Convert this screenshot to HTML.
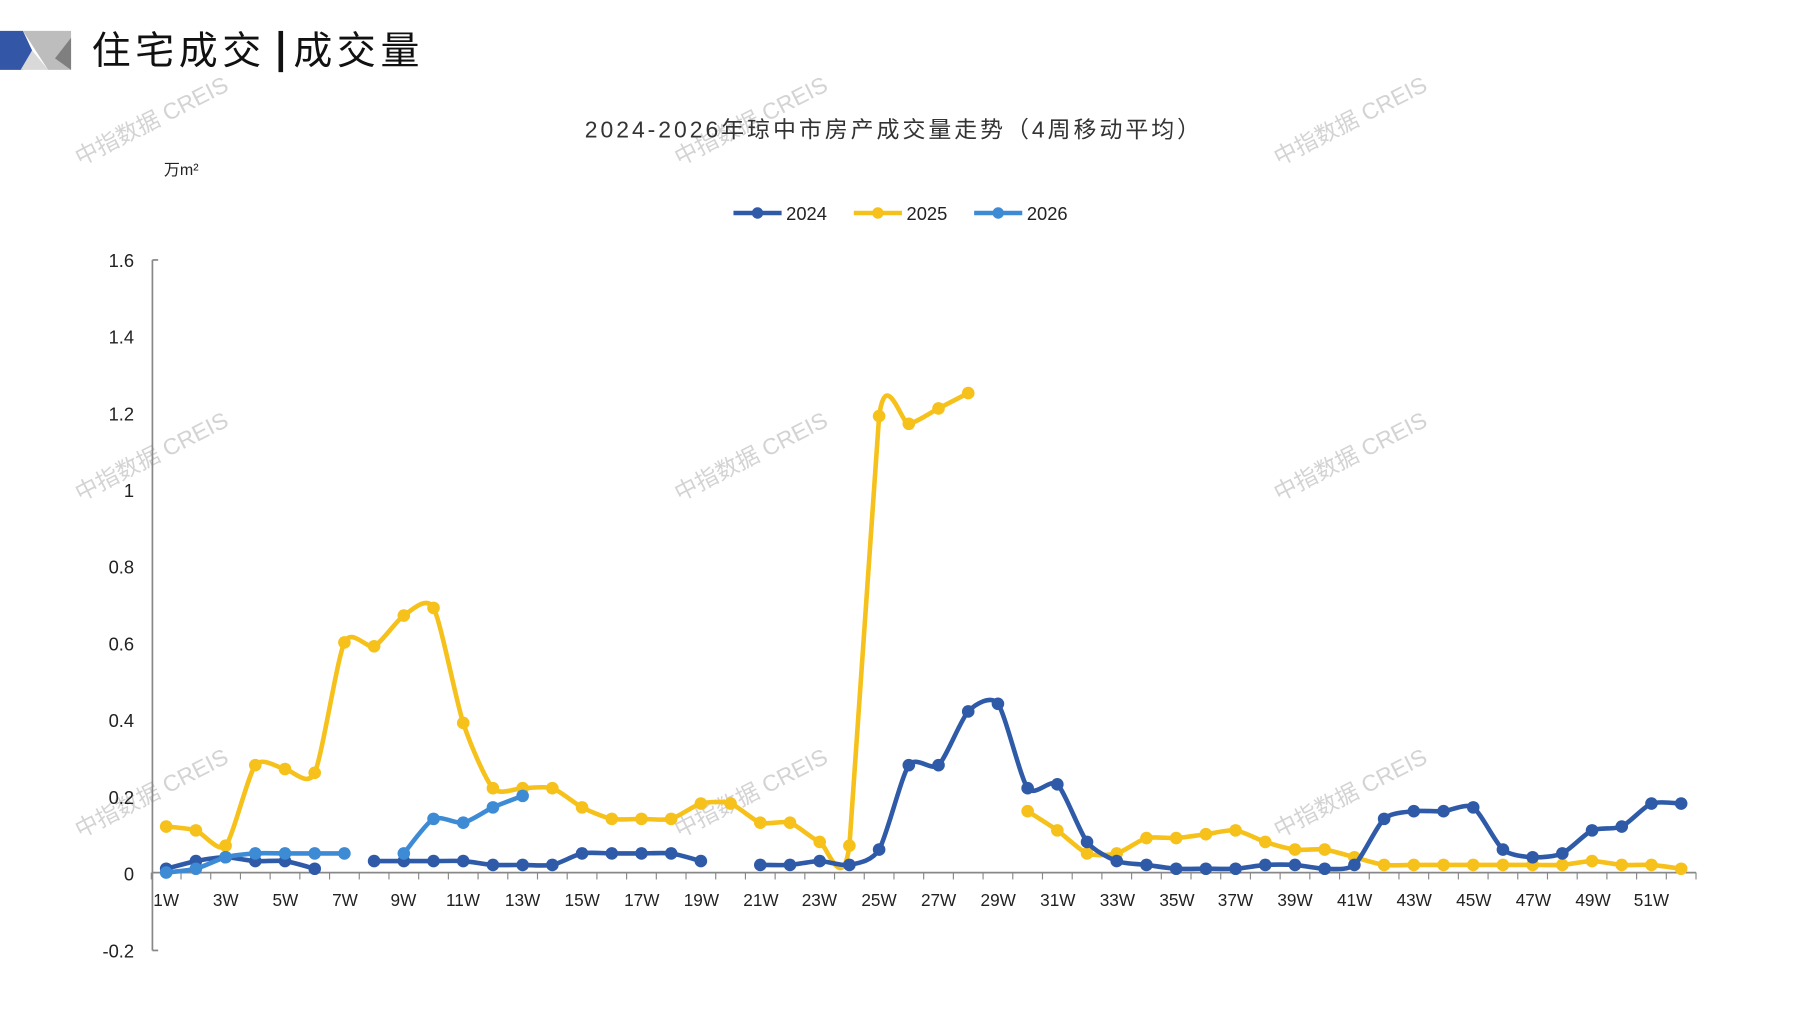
<!DOCTYPE html>
<html><head><meta charset="utf-8"><style>
html,body{margin:0;padding:0;background:#fff;}
svg{display:block;}
text{font-family:"Liberation Sans","Noto Sans CJK SC",sans-serif;}
</style></head><body>
<svg id="c" width="1797" height="1010" viewBox="0 0 1568 882" preserveAspectRatio="none" xmlns="http://www.w3.org/2000/svg">
<rect width="1568" height="882" fill="#fff"/>
<polygon points="0,27 20,27 28,44 20,61 0,61" fill="#3356A6"/>
<polygon points="20,27 62,27 62,61 42,61" fill="#BDBDBD"/>
<polygon points="28,44 42,61 18,61" fill="#D9D9D9"/>
<polygon points="62,33 62,61 48,51" fill="#7F7F7F"/>
<text x="80" y="56" font-size="34" fill="#111" font-family="'Noto Serif CJK SC',serif" letter-spacing="4">住宅成交</text>
<rect x="243" y="27" width="4" height="36" fill="#111"/>
<text x="256" y="56" font-size="34" fill="#111" font-family="'Noto Serif CJK SC',serif" letter-spacing="4">成交量</text>
<g fill="#c8c8c8" font-size="20" opacity="0.8">
<text transform="translate(70,145) rotate(-27)">中指数据 CREIS</text>
<text transform="translate(593,145) rotate(-27)">中指数据 CREIS</text>
<text transform="translate(1116,145) rotate(-27)">中指数据 CREIS</text>
<text transform="translate(70,438) rotate(-27)">中指数据 CREIS</text>
<text transform="translate(593,438) rotate(-27)">中指数据 CREIS</text>
<text transform="translate(1116,438) rotate(-27)">中指数据 CREIS</text>
<text transform="translate(70,732) rotate(-27)">中指数据 CREIS</text>
<text transform="translate(593,732) rotate(-27)">中指数据 CREIS</text>
<text transform="translate(1116,732) rotate(-27)">中指数据 CREIS</text>
</g>
<text x="780" y="120" font-size="20" fill="#333" text-anchor="middle" letter-spacing="2.6">2024-2026年琼中市房产成交量走势（4周移动平均）</text>
<text x="143" y="153" font-size="14" fill="#222">万m²</text>
<g font-size="16" fill="#222">
<line x1="640" y1="186" x2="682" y2="186" stroke="#2E5AA8" stroke-width="4"/><circle cx="661" cy="186" r="5" fill="#2E5AA8"/><text x="686" y="192">2024</text>
<line x1="745" y1="186" x2="787" y2="186" stroke="#F5C11A" stroke-width="4"/><circle cx="766" cy="186" r="5" fill="#F5C11A"/><text x="791" y="192">2025</text>
<line x1="850" y1="186" x2="892" y2="186" stroke="#3D8BD4" stroke-width="4"/><circle cx="871" cy="186" r="5" fill="#3D8BD4"/><text x="896" y="192">2026</text>
</g>
<g stroke="#888" stroke-width="1.5" fill="none">
<line x1="133" y1="227" x2="133" y2="830"/>
<line x1="133" y1="762" x2="1480" y2="762"/>
<line x1="133" y1="227" x2="138" y2="227"/>
<line x1="133" y1="830" x2="138" y2="830"/>
</g>
<g id="ticks" stroke="#888" stroke-width="1"></g>
<g font-size="16" fill="#222" text-anchor="end">
<text x="117" y="233">1.6</text><text x="117" y="300">1.4</text><text x="117" y="367">1.2</text>
<text x="117" y="434">1</text><text x="117" y="501">0.8</text><text x="117" y="568">0.6</text>
<text x="117" y="635">0.4</text><text x="117" y="702">0.2</text><text x="117" y="769">0</text>
<text x="117" y="836">-0.2</text>
</g>
<g font-size="15" fill="#222" text-anchor="middle">
<text x="145" y="791">1W</text><text x="197" y="791">3W</text><text x="249" y="791">5W</text><text x="301" y="791">7W</text>
<text x="352" y="791">9W</text><text x="404" y="791">11W</text><text x="456" y="791">13W</text><text x="508" y="791">15W</text>
<text x="560" y="791">17W</text><text x="612" y="791">19W</text><text x="664" y="791">21W</text><text x="715" y="791">23W</text>
<text x="767" y="791">25W</text><text x="819" y="791">27W</text><text x="871" y="791">29W</text><text x="923" y="791">31W</text>
<text x="975" y="791">33W</text><text x="1027" y="791">35W</text><text x="1078" y="791">37W</text><text x="1130" y="791">39W</text>
<text x="1182" y="791">41W</text><text x="1234" y="791">43W</text><text x="1286" y="791">45W</text><text x="1338" y="791">47W</text>
<text x="1390" y="791">49W</text><text x="1441" y="791">51W</text>
</g>
<g id="series"></g>
</svg>
<script>
var X=function(w){return 145+(w-1)*25.92;},Y=function(v){return 762-v*335;};
var tk=document.getElementById('ticks'),ns='http://www.w3.org/2000/svg';
for(var i=0;i<=52;i++){var x=145+(i-0.5)*25.92;var l=document.createElementNS(ns,'line');l.setAttribute('x1',x);l.setAttribute('x2',x);l.setAttribute('y1',762);l.setAttribute('y2',768);tk.appendChild(l);}
var N=null;
var d24=[0.01,0.03,0.04,0.03,0.03,0.01,N,0.03,0.03,0.03,0.03,0.02,0.02,0.02,0.05,0.05,0.05,0.05,0.03,N,0.02,0.02,0.03,0.02,0.06,0.28,0.28,0.42,0.44,0.22,0.23,0.08,0.03,0.02,0.01,0.01,0.01,0.02,0.02,0.01,0.02,0.14,0.16,0.16,0.17,0.06,0.04,0.05,0.11,0.12,0.18,0.18];
var d25=[0.12,0.11,0.07,0.28,0.27,0.26,0.60,0.59,0.67,0.69,0.39,0.22,0.22,0.22,0.17,0.14,0.14,0.14,0.18,0.18,0.13,0.13,0.08,0.07,1.19,1.17,1.21,1.25,N,0.16,0.11,0.05,0.05,0.09,0.09,0.10,0.11,0.08,0.06,0.06,0.04,0.02,0.02,0.02,0.02,0.02,0.02,0.02,0.03,0.02,0.02,0.01];
var d26=[0.0,0.01,0.04,0.05,0.05,0.05,0.05,N,0.05,0.14,0.13,0.17,0.20];
var g=document.getElementById('series');
function draw(d,c){var segs=[],cur=[];d.forEach(function(v,i){if(v===N){if(cur.length)segs.push(cur);cur=[];}else cur.push([X(i+1),Y(v)]);});if(cur.length)segs.push(cur);
segs.forEach(function(p){var s='M'+p[0][0]+','+p[0][1];for(var i=0;i<p.length-1;i++){var p0=p[i-1]||p[i],p1=p[i],p2=p[i+1],p3=p[i+2]||p2;var t=0.12;
var big=Math.abs(p2[1]-p1[1])>150;var t1=big?0.02:t,t2=big?0.02:t;
s+=' C'+(p1[0]+(p2[0]-p0[0])*t1)+','+(p1[1]+(p2[1]-p0[1])*t1)+' '+(p2[0]-(p3[0]-p1[0])*t2)+','+(p2[1]-(p3[1]-p1[1])*t2)+' '+p2[0]+','+p2[1];}
var e=document.createElementNS(ns,'path');e.setAttribute('d',s);e.setAttribute('fill','none');e.setAttribute('stroke',c);e.setAttribute('stroke-width','4');g.appendChild(e);
p.forEach(function(q){var ci=document.createElementNS(ns,'circle');ci.setAttribute('cx',q[0]);ci.setAttribute('cy',q[1]);ci.setAttribute('r','5.5');ci.setAttribute('fill',c);g.appendChild(ci);});});}
draw(d25,'#F5C11A');draw(d24,'#2E5AA8');draw(d26,'#3D8BD4');
</script>
</body></html>
